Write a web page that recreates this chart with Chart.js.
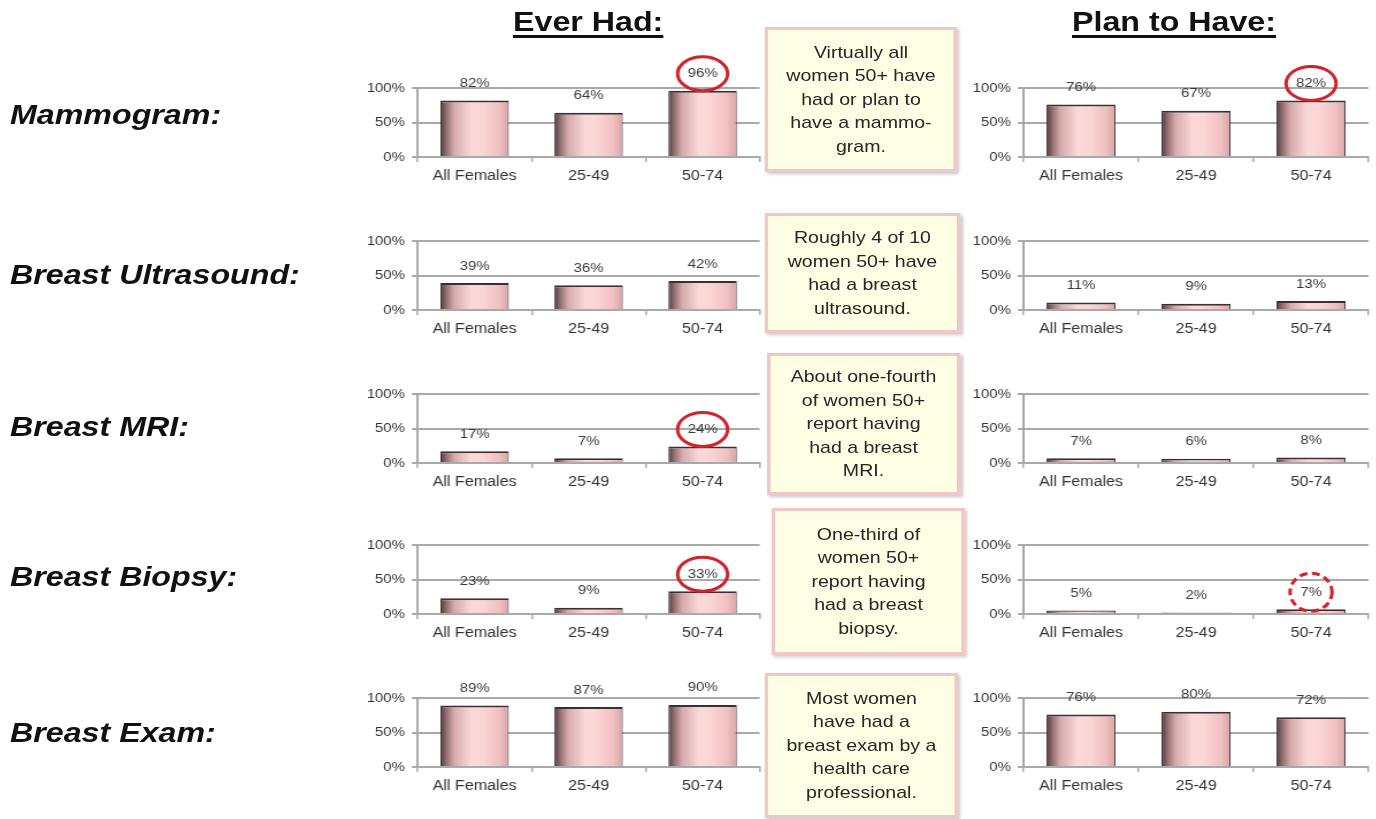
<!DOCTYPE html>
<html>
<head>
<meta charset="utf-8">
<script src="https://cdn.jsdelivr.net/npm/chart.js@4.4.1/dist/chart.umd.min.js"></script>
<style>
  html, body { margin: 0; padding: 0; background: #fff; overflow: hidden; }
  body { width: 1376px; height: 819px; position: relative; }
  #stage { position: absolute; left: 0; top: 0; height: 819px; transform-origin: 0 0;
           font-family: Arial, "Liberation Sans", sans-serif; }
  .head { position: absolute; font-weight: bold; font-size: 28px; line-height: 32px; color: #111;
          text-decoration: underline; text-decoration-thickness: 3px; text-underline-offset: 4px; white-space: nowrap; }
  .row { position: absolute; font-weight: bold; font-style: italic; font-size: 28px; line-height: 32px;
         color: #111; white-space: nowrap; }
  .note { position: absolute; box-sizing: border-box; background: #fefee4; border: 3px solid #f3c6c6;
          box-shadow: 2px 2px 3px rgba(0,0,0,.22); display: flex; align-items: center; justify-content: center;
          text-align: center; font-size: 17px; line-height: 23.5px; color: #262626; }
  canvas { position: absolute; }
</style>
</head>
<body>
<div id="stage"></div>
<script>
// The slide is laid out on a narrower stage and widened horizontally.
const S = 1.15;
const X = v => v / S;
const stage = document.getElementById('stage');
stage.style.width = X(1376) + 'px';
stage.style.transform = 'scaleX(' + S + ')';

// ---- data ----
const categories = ['All Females', '25-49', '50-74'];
const yTicks = [0, 50, 100];
const columnTitles = ['Ever Had:', 'Plan to Have:'];
const rowTitles = ['Mammogram:', 'Breast Ultrasound:', 'Breast MRI:', 'Breast Biopsy:', 'Breast Exam:'];

const mammogramEver  = [82, 64, 96];
const mammogramPlan  = [76, 67, 82];
const ultrasoundEver = [39, 36, 42];
const ultrasoundPlan = [11, 9, 13];
const mriEver        = [17, 7, 24];
const mriPlan        = [7, 6, 8];
const biopsyEver     = [23, 9, 33];
const biopsyPlan     = [5, 2, 7];
const examEver       = [89, 87, 90];
const examPlan       = [76, 80, 72];

const noteLines = [
  ['Virtually all', 'women 50+ have', 'had or plan to', 'have a mammo-', 'gram.'],
  ['Roughly 4 of 10', 'women 50+ have', 'had a breast', 'ultrasound.'],
  ['About one-fourth', 'of women 50+', 'report having', 'had a breast', 'MRI.'],
  ['One-third of', 'women 50+', 'report having', 'had a breast', 'biopsy.'],
  ['Most women', 'have had a', 'breast exam by a', 'health care', 'professional.']
];

const everSeries = [mammogramEver, ultrasoundEver, mriEver, biopsyEver, examEver];
const planSeries = [mammogramPlan, ultrasoundPlan, mriPlan, biopsyPlan, examPlan];

// ---- layout ----
const plotTops = [88, 241, 394, 545, 698];
const PLOT_H = 69;
const rowTitleTops = [99, 259, 411, 561, 717];
const noteBoxes = [[765, 27, 957, 172], [765, 213, 960, 333], [767, 353, 960, 495], [772, 508, 965, 655], [765, 673, 958, 818]];
const GRID = '#a9a9a9';

// ring highlights around the 50-74 labels
const SOLID = { index: 2, rx: 25, ry: 17, dashed: false };
const DASHED = { index: 2, rx: 21, ry: 19, dashed: true };
const everRings = [SOLID, null, SOLID, SOLID, null];
const planRings = [SOLID, null, null, DASHED, null];

Chart.defaults.font.family = 'Arial, "Liberation Sans", sans-serif';

// cylinder-like shading across each bar
function barFill(context) {
  const chart = context.chart;
  const xs = chart.scales && chart.scales.x;
  if (!xs || !chart.chartArea || context.dataIndex === undefined) return '#f2c6c7';
  const cx = xs.getPixelForValue(context.dataIndex);
  const half = xs.width / chart.data.labels.length * 0.6 / 2;
  const g = chart.ctx.createLinearGradient(cx - half, 0, cx + half, 0);
  g.addColorStop(0, '#4d3a3c');
  g.addColorStop(0.08, '#8f6b6d');
  g.addColorStop(0.2, '#d6aaac');
  g.addColorStop(0.45, '#fbd9d9');
  g.addColorStop(0.62, '#fbd5d5');
  g.addColorStop(0.86, '#f0c0c1');
  g.addColorStop(1, '#d4a5a7');
  return g;
}

// value labels above the bars, with an optional ring around one of them
const valueLabels = {
  id: 'valueLabels',
  afterDatasetsDraw(chart, args, opts) {
    const ctx = chart.ctx;
    const meta = chart.getDatasetMeta(0);
    const data = chart.data.datasets[0].data;
    const ring = opts.ring;
    ctx.save();
    ctx.font = '13px Arial, "Liberation Sans", sans-serif';
    ctx.textAlign = 'center';
    ctx.textBaseline = 'middle';
    meta.data.forEach((bar, i) => {
      const y = bar.y - 17;
      ctx.fillStyle = '#3a3a3a';
      ctx.fillText(data[i] + '%', bar.x, y);
      if (ring && ring.index === i) {
        ctx.beginPath();
        ctx.ellipse(bar.x, y, X(ring.rx), ring.ry, 0, 0, Math.PI * 2);
        ctx.lineWidth = 3;
        ctx.strokeStyle = '#d2232a';
        ctx.setLineDash(ring.dashed ? [7, 4] : []);
        ctx.stroke();
      }
    });
    ctx.restore();
  }
};

function makeChart(values, row, left, right, plotL, plotR, ring) {
  const TOP_PAD = 45, X_AXIS_H = 32;
  const c = document.createElement('canvas');
  const w = Math.round(X(right - left));
  const h = TOP_PAD + PLOT_H + X_AXIS_H;
  c.width = w; c.height = h;
  c.style.width = w + 'px'; c.style.height = h + 'px';
  c.style.left = X(left) + 'px';
  c.style.top = (plotTops[row] - TOP_PAD) + 'px';
  stage.appendChild(c);
  const yW = X(plotL - left);
  const rPad = w - X(plotR - left);
  new Chart(c, {
    type: 'bar',
    data: {
      labels: categories,
      datasets: [{
        data: values,
        backgroundColor: barFill,
        borderColor: '#3f2e30',
        borderWidth: { top: 2, left: 1, right: 1, bottom: 0 },
        barPercentage: 0.6,
        categoryPercentage: 1
      }]
    },
    options: {
      responsive: false,
      animation: false,
      devicePixelRatio: 1,
      layout: { padding: { top: TOP_PAD, right: rPad, left: 0, bottom: 0 } },
      plugins: { legend: { display: false }, tooltip: { enabled: false }, valueLabels: { ring: ring } },
      scales: {
        x: {
          grid: { display: true, drawOnChartArea: false, drawTicks: true, tickLength: 5, color: GRID, lineWidth: 1.5, offset: true },
          border: { display: true, color: GRID, width: 2 },
          ticks: { color: '#333', font: { size: 14 }, padding: 6, maxRotation: 0, autoSkip: false },
          afterFit: s => { s.height = X_AXIS_H; }
        },
        y: {
          min: 0, max: 100,
          afterBuildTicks: s => { s.ticks = yTicks.map(v => ({ value: v })); },
          grid: { color: GRID, lineWidth: 2, tickLength: 5 },
          border: { display: true, color: GRID, width: 2 },
          ticks: { color: '#333', font: { size: 13 }, padding: 6, callback: v => v + '%' },
          afterFit: s => { s.width = yW; }
        }
      }
    },
    plugins: [valueLabels]
  });
}

// column headings
[[columnTitles[0], 513], [columnTitles[1], 1072]].forEach(([t, x]) => {
  const d = document.createElement('div');
  d.className = 'head';
  d.textContent = t;
  d.style.left = X(x) + 'px';
  d.style.top = '6px';
  stage.appendChild(d);
});

// row titles, notes and the two charts per row
rowTitles.forEach((t, r) => {
  const d = document.createElement('div');
  d.className = 'row';
  d.textContent = t;
  d.style.left = X(10) + 'px';
  d.style.top = rowTitleTops[r] + 'px';
  stage.appendChild(d);

  const [x1, y1, x2, y2] = noteBoxes[r];
  const n = document.createElement('div');
  n.className = 'note';
  n.style.left = X(x1) + 'px';
  n.style.top = y1 + 'px';
  n.style.width = X(x2 - x1) + 'px';
  n.style.height = (y2 - y1) + 'px';
  const inner = document.createElement('div');
  inner.innerHTML = noteLines[r].join('<br>');
  n.appendChild(inner);
  stage.appendChild(n);

  makeChart(everSeries[r], r, 350, 772, 418, 760, everRings[r]);
  makeChart(planSeries[r], r, 962, 1376, 1023, 1368, planRings[r]);
});
</script>
</body>
</html>
